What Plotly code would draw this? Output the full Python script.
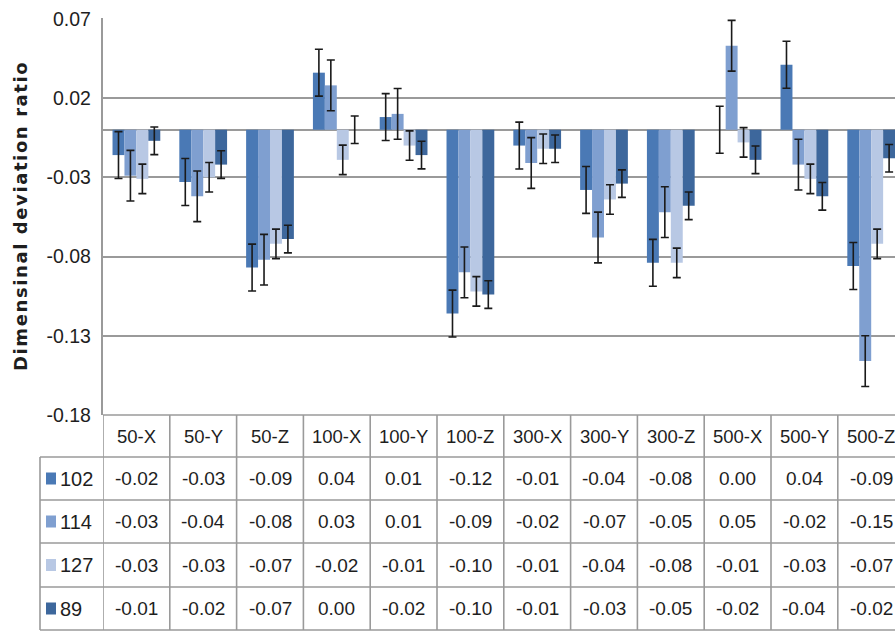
import plotly.graph_objects as go

# Specimen/axis combinations
categories = ["50-X", "50-Y", "50-Z", "100-X", "100-Y", "100-Z",
              "300-X", "300-Y", "300-Z", "500-X", "500-Y", "500-Z"]

# Series names
series_names = ["102", "114", "127", "89"]

# Mean dimensional deviation ratio per series
s102 = [-0.016, -0.033, -0.087, 0.036, 0.008, -0.116, -0.010, -0.038, -0.084, 0.000, 0.041, -0.086]
s114 = [-0.029, -0.042, -0.082, 0.028, 0.010, -0.090, -0.021, -0.068, -0.052, 0.053, -0.022, -0.146]
s127 = [-0.031, -0.030, -0.072, -0.019, -0.010, -0.102, -0.012, -0.044, -0.084, -0.008, -0.031, -0.072]
s89 = [-0.007, -0.022, -0.069, 0.000, -0.016, -0.104, -0.012, -0.034, -0.048, -0.019, -0.042, -0.018]

# Error (standard deviation) per series
err102 = 0.0148
err114 = 0.0160
err127 = 0.0093
err89 = 0.0087

# Y axis ticks
y_ticks = [0.07, 0.02, -0.03, -0.08, -0.13, -0.18]

series_values = [s102, s114, s127, s89]
series_errors = [err102, err114, err127, err89]
series_colors = ["#4a79b5", "#7f9fd0", "#b8c8e4", "#3d679c"]

W, H = 895, 635
ML, MR, MT, MB = 103, 0, 18, 220
plot_w = W - ML - MR
plot_h = H - MT - MB
cat_px = 66.8

sans = "Liberation Sans, Arial, sans-serif"
text_col = "#1e1e1e"
line_col = "#9a9a9a"
hdr_size = 18.5
val_size = 19


def py(pix):
    """pixel row -> paper y"""
    return (H - MB - pix) / plot_h


def px(pix):
    """pixel column -> paper x"""
    return (pix - ML) / plot_w


fig = go.Figure()
for name, vals, err, col in zip(series_names, series_values, series_errors, series_colors):
    fig.add_trace(go.Bar(
        x=categories, y=vals, name=name,
        marker=dict(color=col, line=dict(width=0)),
        error_y=dict(type="constant", value=err, color="#1a1a1a",
                     thickness=1.6, width=4),
    ))

x_max = -0.5 + plot_w / cat_px

shapes = []
# table horizontal rules
row_px = [415, 457, 500, 543, 587, 630]
for i, r in enumerate(row_px):
    if i == 0:
        shapes.append(dict(type="line", xref="x", yref="paper", x0=-0.5, x1=x_max + 1,
                           y0=py(r), y1=py(r), line=dict(color=line_col, width=1.6)))
    else:
        shapes.append(dict(type="line", xref="paper", yref="paper", x0=px(40), x1=1.02,
                           y0=py(r), y1=py(r), line=dict(color=line_col, width=1.6)))
# table vertical rules at category boundaries
for k in range(len(categories) + 1):
    shapes.append(dict(type="line", xref="x", yref="paper", x0=k - 0.5, x1=k - 0.5,
                       y0=py(630), y1=py(415), line=dict(color=line_col, width=1.6)))
# legend column left border
shapes.append(dict(type="line", xref="paper", yref="paper", x0=px(40), x1=px(40),
                   y0=py(630), y1=py(457), line=dict(color=line_col, width=1.6)))

annotations = []
# header row
for i, c in enumerate(categories):
    annotations.append(dict(x=i, y=py(436), xref="x", yref="paper", text=c,
                            xanchor="center", yanchor="middle", showarrow=False,
                            font=dict(family=sans, size=hdr_size, color=text_col)))
# value rows with legend keys
row_centers = [478.5, 521.5, 565, 608.5]
for name, vals, col, rc in zip(series_names, series_values, series_colors, row_centers):
    shapes.append(dict(type="rect", xref="paper", yref="paper",
                       x0=px(46), x1=px(56), y0=py(rc + 6), y1=py(rc - 6),
                       fillcolor=col, line=dict(width=0)))
    annotations.append(dict(x=px(58), y=py(rc), xref="paper", yref="paper", text=name,
                            xanchor="left", yanchor="middle", showarrow=False,
                            font=dict(family=sans, size=val_size + 1, color=text_col)))
    for i, v in enumerate(vals):
        annotations.append(dict(x=i, y=py(rc), xref="x", yref="paper", text=f"{v:.2f}",
                                xanchor="center", yanchor="middle", showarrow=False,
                                font=dict(family=sans, size=val_size, color=text_col)))

# y axis title
annotations.append(dict(x=px(21), y=py(216), xref="paper", yref="paper",
                        text="<span style='letter-spacing:1.6px'><b>Dimensinal deviation ratio</b></span>",
                        textangle=-90,
                        xanchor="center", yanchor="middle", showarrow=False,
                        font=dict(family="DejaVu Sans, sans-serif", size=18, color=text_col)))

fig.update_layout(
    width=W, height=H,
    margin=dict(l=ML, r=MR, t=MT, b=MB, pad=0),
    paper_bgcolor="white", plot_bgcolor="white",
    barmode="group", bargap=0.285, bargroupgap=0,
    showlegend=False,
    shapes=shapes, annotations=annotations,
    xaxis=dict(range=[-0.5, x_max], showticklabels=False, showgrid=False,
               zeroline=False, showline=False, fixedrange=True),
    yaxis=dict(range=[-0.18, 0.0705], tickvals=y_ticks,
               ticktext=[f"{t:.2f}\u00a0" for t in y_ticks],
               tickfont=dict(family=sans, size=19.5, color=text_col),
               ticks="outside", ticklen=1, tickcolor="rgba(0,0,0,0)",
               showgrid=True, gridcolor=line_col, gridwidth=1.6,
               zeroline=True, zerolinecolor=line_col, zerolinewidth=1.6,
               showline=True, linecolor=line_col, linewidth=1.6),
)

fig.write_html("out.html")
